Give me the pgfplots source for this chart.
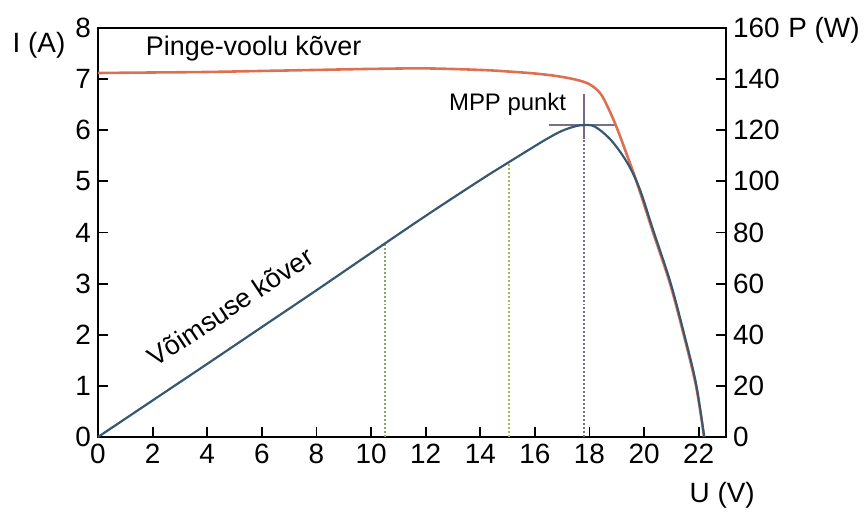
\documentclass[border=0pt]{standalone}
\usepackage{fontspec}
\setmainfont{Liberation Sans}
\usepackage{pgfplots}
\pgfplotsset{compat=1.18}
\definecolor{ivc}{RGB}{222,112,82}
\definecolor{pc}{RGB}{55,88,112}
\definecolor{g1}{RGB}{130,170,100}
\definecolor{g2}{RGB}{175,180,90}
\definecolor{mpp}{RGB}{120,105,145}
\begin{document}
\begin{tikzpicture}
\pgfplotsset{every axis/.append style={
  scale only axis, width=314bp, height=204.5bp, xmin=0, xmax=23,
  tick align=inside, axis line style={line width=0.9pt},
  major tick length=5bp, tick style={black, line width=0.9pt},
  ticklabel style={font=\fontsize{14}{16}\selectfont},
  /pgf/number format/assume math mode=true, clip=false}}
\begin{axis}[name=main, ymin=0, ymax=8, xtick={0,2,...,22}, ytick={0,1,...,8},
  xtick pos=left, ytick pos=left]
\addplot[g1, densely dotted, line width=1pt] coordinates {(10.5,0) (10.5,3.78)};
\addplot[g2, densely dotted, line width=1pt] coordinates {(15.05,0) (15.05,5.35)};
\addplot[mpp, densely dotted, line width=1pt] coordinates {(17.8,0) (17.8,5.85)};
\addplot[mpp, line width=0.9pt] coordinates {(17.8,5.85) (17.8,6.7)};
\addplot[mpp!80!gray, line width=0.9pt] coordinates {(16.5,6.1) (19.0,6.1)};
\addplot[ivc, line width=1.3pt, smooth, tension=0.55] coordinates {
(0,7.12) (2,7.13) (4,7.14) (6,7.16) (8,7.18) (10,7.20) (12,7.21)
(14,7.18) (15,7.15) (16,7.11) (16.8,7.06) (17.5,6.99)
(18.0,6.9) (18.4,6.72) (18.7,6.42) (19.0,6.05) (19.35,5.55) (19.74,4.97)
(20.33,4.0) (20.95,3.0) (21.45,2.0) (21.9,1.0) (22.2,0)};
\node[anchor=west, font=\fontsize{13.5}{16}\selectfont] at (axis cs:1.5,7.6) {Pinge-voolu kõver};
\node[anchor=east, font=\fontsize{12}{14}\selectfont] at (axis cs:17.4,6.5) {MPP punkt};
\node[rotate=33.5, font=\fontsize{13.5}{16}\selectfont] at (axis cs:4.85,2.55) {Võimsuse kõver};
\node[font=\fontsize{14}{16}\selectfont] at (rel axis cs:-0.094,0.958) {I (A)};
\node[font=\fontsize{14}{16}\selectfont] at (rel axis cs:1.156,0.995) {P (W)};
\node[font=\fontsize{14}{16}\selectfont] at (rel axis cs:0.994,-0.142) {U (V)};
\end{axis}
\begin{axis}[ymin=0, ymax=160, ytick={0,20,...,160}, axis y line*=right,
  axis x line=none]
\addplot[pc, line width=1.1pt, smooth, tension=0.55] coordinates {
(0,0) (2,14.3) (4,28.6) (6,43.0) (8,57.4) (10,72.0) (12,86.5) (14,100.5)
(15,107.2) (16,113.8) (16.5,117.0) (17,119.8) (17.5,121.6) (17.8,122.0)
(18.2,121.4) (18.8,116.0) (19.4,107.0) (19.85,96.7) (20.33,81.0)
(20.95,61.0) (21.45,41.0) (21.9,21.0) (22.2,0)};
\end{axis}
\pgfresetboundingbox
\path[use as bounding box] (main.south west) ++(-49bp,-42bp) rectangle ++(434bp,260.5bp);
\end{tikzpicture}
\end{document}
